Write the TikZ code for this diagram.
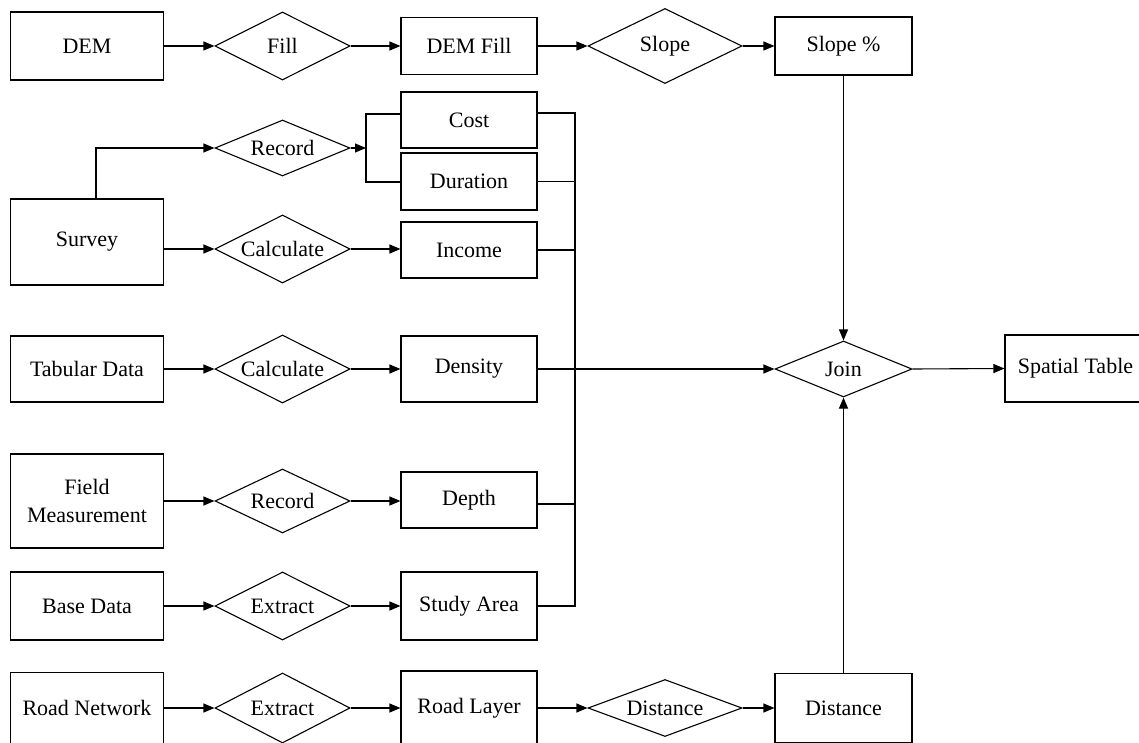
\documentclass[tikz,border=0pt]{standalone}
\usepackage{fontspec}
\setmainfont{Liberation Serif}
\usetikzlibrary{shapes.geometric,arrows.meta,calc}
\begin{document}
\begin{tikzpicture}[x=1pt,y=-1pt, line width=1.1pt,
  font=\fontsize{22}{28}\selectfont,
  box/.style={draw, rectangle, inner sep=0pt, align=center},
  wbox/.style={box, minimum width=153pt},
  nbox/.style={box, minimum width=136pt},
  dia/.style={draw, diamond, inner sep=0pt, aspect=2, minimum width=135pt},
  wdia/.style={draw, diamond, inner sep=0pt, aspect=2, minimum width=154pt},
  arr/.style={-{Triangle[length=11pt,width=9pt]}}]
\useasboundingbox (0,0) rectangle (1139,743);
\clip (0,0) rectangle (1139,743);

% row 1
\node[wbox, minimum height=68pt] (dem) at (87,46) {DEM};
\node[dia, minimum height=68pt] (fill) at (282.5,46) {Fill};
\node[nbox, minimum height=57pt] (demfill) at (469,46) {DEM Fill};
\node[wdia, minimum height=75pt] (slope) at (665,46) {Slope};
\node[nbox, minimum width=137pt, minimum height=58pt] (slopep) at (843.5,46) {Slope \%};

% survey group
\node[dia, minimum height=56pt] (rec1) at (282.5,148) {Record};
\node[nbox, minimum height=56pt] (cost) at (469,120) {Cost};
\node[nbox, minimum height=57pt] (dur) at (469,181.5) {Duration};
\node[wbox, minimum height=86pt] (survey) at (87,242) {Survey};
\node[dia, minimum height=68pt] (calc1) at (282.5,249) {Calculate};
\node[nbox, minimum height=56pt] (inc) at (469,250) {Income};

% tabular
\node[wbox, minimum height=66pt] (tab) at (87,369) {Tabular Data};
\node[dia, minimum height=68pt] (calc2) at (282.5,369) {Calculate};
\node[nbox, minimum height=66pt] (dens) at (469,369) {Density};
\node[draw, diamond, inner sep=0pt, aspect=2, minimum width=137pt, minimum height=56pt] (join) at (843.5,369) {Join};
\node[box, minimum width=150pt, minimum height=67pt] (spatial) at (1080,368.5) {\hspace*{-9pt}Spatial Table};

% field
\node[wbox, minimum height=94pt] (field) at (87,501) {Field\\Measurement};
\node[dia, minimum height=64pt] (rec2) at (282.5,501) {Record};
\node[nbox, minimum height=56pt] (depth) at (469,500) {Depth};

% base
\node[wbox, minimum height=68pt] (base) at (87,606) {Base Data};
\node[dia, minimum height=68pt] (ext1) at (282.5,606) {Extract};
\node[nbox, minimum height=68pt] (area) at (469,606) {Study Area};

% road
\node[wbox, minimum height=71pt] (road) at (87,708) {Road Network};
\node[dia, minimum height=70pt] (ext2) at (282.5,708) {Extract};
\node[nbox, minimum height=74pt] (rlayer) at (469,708) {Road Layer};
\node[wdia, minimum height=57pt] (distd) at (665,708) {Distance};
\node[nbox, minimum width=137pt, minimum height=69pt] (dist) at (843.5,708) {Distance};

% row 1 connectors
\draw[arr] (dem.east) -- (fill.west);
\draw[arr] (fill.east) -- (demfill.west);
\draw[arr] (demfill.east) -- (slope.west);
\draw[arr] (slope.east) -- (slopep.west);

% survey connectors
\draw[arr] ([xshift=9pt]survey.north) |- (rec1.west);
\coordinate (br) at (366,148);
\coordinate (bt) at (366,114);
\coordinate (bb) at (366,182);
\draw[arr] (rec1.east) -- (br);
\draw (cost.west |- bt) -- (bt) -- (bb) -- (dur.west |- bb);
\draw[arr] (survey.east |- calc1.west) -- (calc1.west);
\draw[arr] (calc1.east) -- (calc1.east -| inc.west);

% tabular connectors
\draw[arr] (tab.east) -- (calc2.west);
\draw[arr] (calc2.east) -- (dens.west);

% field, base, road connectors
\draw[arr] (field.east) -- (rec2.west);
\draw[arr] (rec2.east) -- (rec2.east -| depth.west);
\draw[arr] (base.east) -- (ext1.west);
\draw[arr] (ext1.east) -- (area.west);
\draw[arr] (road.east) -- (ext2.west);
\draw[arr] (ext2.east) -- (rlayer.west);
\draw[arr] (rlayer.east) -- (distd.west);
\draw[arr] (distd.east) -- (dist.west);

% bus
\coordinate (bus1) at (575,113);
\coordinate (bus2) at (575,606);
\draw ([yshift=7pt]cost.east) -- (bus1) -- (bus2) -- (area.east);
\draw (dur.east) -- (dur.east -| bus1);
\draw (inc.east) -- (inc.east -| bus1);
\draw ([yshift=-4pt]depth.east) -- ([yshift=-4pt]depth.east -| bus1);

% join
\draw[arr] (dens.east) -- (join.west);
\draw[arr] (slopep.south) -- (join.north);
\draw[arr] (dist.north) -- (join.south);
\draw[arr] (join.east) -- (spatial.west);
\end{tikzpicture}
\end{document}
